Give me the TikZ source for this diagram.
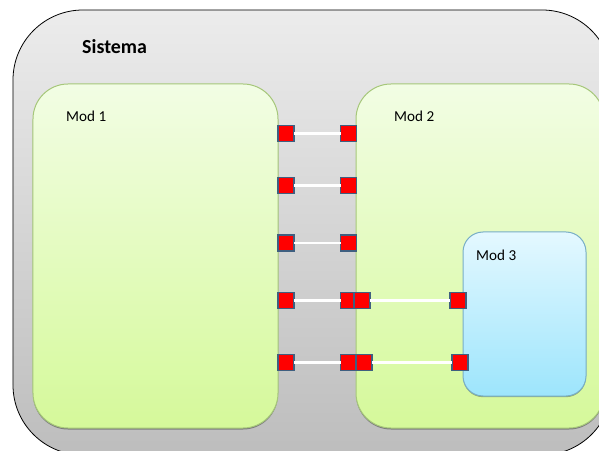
\documentclass[tikz,border=0pt]{standalone}
\usepackage{fontspec}
\setmainfont{Carlito}
\usetikzlibrary{shadows}
\definecolor{sysTop}{HTML}{ECECEC}
\definecolor{sysBot}{HTML}{BDBDBD}
\definecolor{modTop}{HTML}{F2FDE4}
\definecolor{modBot}{HTML}{D5F99A}
\definecolor{modLine}{HTML}{A6C77A}
\definecolor{subTop}{HTML}{E4F8FF}
\definecolor{subBot}{HTML}{9DE5FC}
\definecolor{subLine}{HTML}{78AEC6}
\definecolor{portLine}{HTML}{3F5F80}
\tikzset{
  sysbox/.style={draw=black, line width=0.8bp, rounded corners=70bp,
    top color=sysTop, bottom color=sysBot, inner sep=0pt, outer sep=0pt},
  modbox/.style={draw=modLine, line width=1bp, rounded corners=35bp,
    top color=modTop, bottom color=modBot, inner sep=0pt, outer sep=0pt,
    drop shadow={shadow xshift=0bp, shadow yshift=-1.5bp, fill=black, opacity=0.35}},
  subbox/.style={draw=subLine, line width=1bp, rounded corners=20bp,
    top color=subTop, bottom color=subBot, inner sep=0pt, outer sep=0pt,
    drop shadow={shadow xshift=0bp, shadow yshift=-1.2bp, fill=black, opacity=0.3}},
  port/.style={draw=portLine, fill=red, line width=1.2bp, minimum size=16bp,
    inner sep=0pt, outer sep=0pt},
  wire/.style={white, line width=2.5bp},
  title/.style={font=\fontsize{20}{24}\selectfont\bfseries, anchor=base west, inner sep=0pt},
  label/.style={font=\fontsize{15.2}{18}\selectfont, anchor=base west, inner sep=0pt},
}
\begin{document}
\begin{tikzpicture}[x=1bp,y=-1bp]
\useasboundingbox (0,0) rectangle (599,451);
\clip (0,0) rectangle (599,451);
\fill[white] (0,0) rectangle (599,451);

% system frame and modules
\node[sysbox, minimum width=599bp, minimum height=445bp] (sys) at (312.5,232.5) {};
\node[modbox, minimum width=245bp, minimum height=344bp] (m1) at (155.5,256) {};
\node[modbox, minimum width=248bp, minimum height=344bp] (m2) at (480,256) {};
\node[subbox, minimum width=123bp, minimum height=164bp] (m3) at (524.5,314) {};

% labels
\node[title] (tsys) at (82,54) {Sistema};
\node[label] (t1) at (66,122) {Mod 1};
\node[label] (t2) at (394,122) {Mod 2};
\node[label] (t3) at (476,261) {Mod 3};

% ports of Mod 1
\node[port] (a1) at (286,133.5) {};
\node[port] (a2) at (286,185.5) {};
\node[port] (a3) at (286,243) {};
\node[port] (a4) at (286,300.5) {};
\node[port] (a5) at (286,362.5) {};
% ports of Mod 2
\node[port] (b1) at (348.5,133.5) {};
\node[port] (b2) at (348.5,185.5) {};
\node[port] (b3) at (348.5,243) {};
\node[port] (b4) at (348.5,300.5) {};
\node[port] (b5) at (348.5,362.5) {};
\node[port] (c4) at (362,300.5) {};
\node[port] (c5) at (364,362.5) {};
% ports of Mod 3
\node[port] (d4) at (458,300.5) {};
\node[port] (d5) at (460,362.5) {};

% connections
\draw[wire] (a1.east) -- (b1.west);
\draw[wire] (a2.east) -- (b2.west);
\draw[wire] (a3.east) -- (b3.west);
\draw[wire] (a4.east) -- (b4.west);
\draw[wire] (a5.east) -- (b5.west);
\draw[wire] (c4.east) -- (d4.west);
\draw[wire] (c5.east) -- (d5.west);
\end{tikzpicture}
\end{document}
